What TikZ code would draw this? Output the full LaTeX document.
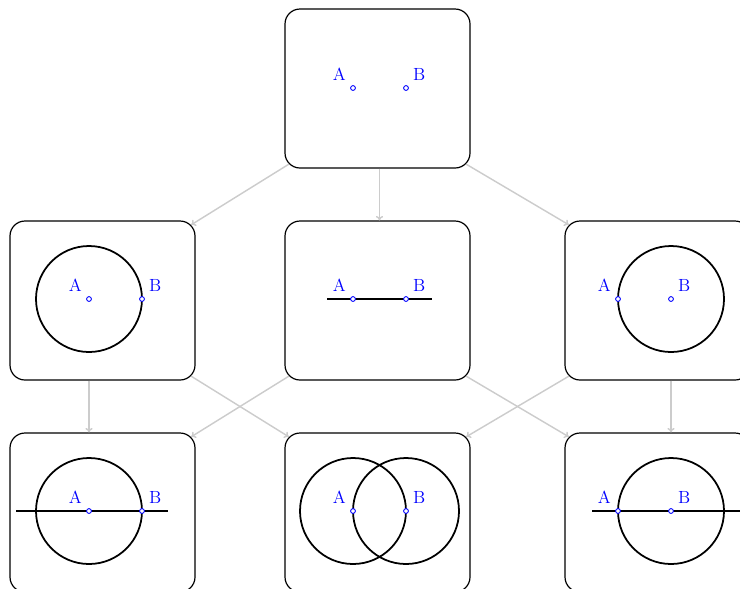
\documentclass[tikz,border=0pt]{standalone}
\usetikzlibrary{arrows.meta}
\begin{document}
\begin{tikzpicture}[x=0.625pt,y=-0.625pt,
  box/.style={draw=black,line width=0.75pt,rounded corners=9.375pt,minimum width=115.625pt,minimum height=99.375pt,inner sep=0pt},
  ptnode/.style={circle,draw=blue,fill=white,line width=0.55pt,minimum size=3pt,inner sep=0pt},
  lbl/.style={text=blue,font=\fontsize{11}{13}\selectfont,inner sep=3pt},
  lA/.style={label={[lbl]above left:A}},
  lB/.style={label={[lbl]above right:B}},
  geo/.style={line width=1.1pt,draw=black},
  arr/.style={-{To[length=2.8pt,width=4.5pt]},draw=black!20,line width=0.9pt}]
\useasboundingbox (0,0) rectangle (740,588);
\clip (0,0) rectangle (740,588);
% boxes
\node[box] (T)  at (377.5,88.5) {};
\node[box] (ML) at (102.5,300.5) {};
\node[box] (MM) at (377.5,300.5) {};
\node[box] (MR) at (657.5,300.5) {};
\node[box] (BL) at (102.5,512.5) {};
\node[box] (BM) at (377.5,512.5) {};
\node[box] (BR) at (657.5,512.5) {};
% point positions
\coordinate (tA) at (353,88);  \coordinate (tB) at (406,88); \coordinate (tmid) at (379.5,88);
\coordinate (mlA) at (89,299); \coordinate (mlB) at (142,299);
\coordinate (mmA) at (353,299); \coordinate (mmB) at (406,299);
\coordinate (mrA) at (618,299); \coordinate (mrB) at (671,299);
\coordinate (blA) at (89,511); \coordinate (blB) at (142,511);
\coordinate (bmA) at (353,511); \coordinate (bmB) at (406,511);
\coordinate (brA) at (618,511); \coordinate (brB) at (671,511);
% geometry
\draw[geo] (mlA) circle[radius=53];
\draw[geo] (327,299) -- (432,299);
\draw[geo] (mrB) circle[radius=53];
\draw[geo] (16,511) -- (168,511);
\draw[geo] (blA) circle[radius=53];
\draw[geo] (bmA) circle[radius=53];
\draw[geo] (bmB) circle[radius=53];
\draw[geo] (592,511) -- (744,511);
\draw[geo] (brB) circle[radius=53];
% points
\node[ptnode,lA] (p1) at (tA) {}; \node[ptnode,lB] (p2) at (tB) {};
\node[ptnode,lA] (p3) at (mlA) {}; \node[ptnode,lB] (p4) at (mlB) {};
\node[ptnode,lA] (p5) at (mmA) {}; \node[ptnode,lB] (p6) at (mmB) {};
\node[ptnode,lA] (p7) at (mrA) {}; \node[ptnode,lB] (p8) at (mrB) {};
\node[ptnode,lA] (p9) at (blA) {}; \node[ptnode,lB] (p10) at (blB) {};
\node[ptnode,lA] (p11) at (bmA) {}; \node[ptnode,lB] (p12) at (bmB) {};
\node[ptnode,lA] (p13) at (brA) {}; \node[ptnode,lB] (p14) at (brB) {};
% arrows
\draw[arr] ([shift={(4.4,-4.4)}]T.south west) -- ([shift={(-4.4,4.4)}]ML.north east);
\draw[arr] (T.south -| tmid) -- (MM.north -| tmid);
\draw[arr] ([shift={(-4.4,-4.4)}]T.south east) -- ([shift={(4.4,4.4)}]MR.north west);
\draw[arr] (ML.south -| mlA) -- (BL.north -| mlA);
\draw[arr] ([shift={(-4.4,-4.4)}]ML.south east) -- ([shift={(4.4,4.4)}]BM.north west);
\draw[arr] ([shift={(4.4,-4.4)}]MM.south west) -- ([shift={(-4.4,4.4)}]BL.north east);
\draw[arr] ([shift={(-4.4,-4.4)}]MM.south east) -- ([shift={(4.4,4.4)}]BR.north west);
\draw[arr] ([shift={(4.4,-4.4)}]MR.south west) -- ([shift={(-4.4,4.4)}]BM.north east);
\draw[arr] (MR.south -| mrB) -- (BR.north -| mrB);
\end{tikzpicture}
\end{document}
